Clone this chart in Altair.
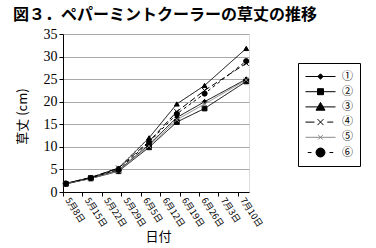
import altair as alt
import pandas as pd

# ---- data ----
series = ["①", "②", "③", "④", "⑤", "⑥"]
days = [1, 10, 20, 31, 41, 51, 66]          # days after 5月8日
v1 = [1.8, 3.1, 4.8, 10.5, 16.5, 20.0, 25.0]
v2 = [1.8, 3.0, 4.6, 9.9, 15.5, 18.5, 24.5]
v3 = [1.9, 3.2, 5.3, 12.0, 19.5, 23.6, 31.8]
v4 = [1.9, 3.2, 5.3, 11.2, 17.8, 22.5, 28.5]
v5 = [1.8, 3.0, 4.7, 10.2, 16.0, 19.5, 24.8]
v6 = [1.9, 3.1, 5.0, 11.0, 17.3, 21.8, 29.0]
tick_days = [0, 7, 14, 21, 28, 35, 42, 49, 56, 63]
tick_labels = ["5月8日", "5月15日", "5月22日", "5月29日", "6月5日",
               "6月12日", "6月19日", "6月26日", "7月3日", "7月10日"]
y_ticks = [0, 5, 10, 15, 20, 25, 30, 35]

values = [v1, v2, v3, v4, v5, v6]
rows = []
for s, vals in zip(series, values):
    for d, v in zip(days, vals):
        rows.append({"series": s, "day": d, "height": v})
df = pd.DataFrame(rows)

# ---- styles ----
colors = ["#000000", "#000000", "#000000", "#000000", "#8a8a8a", "#000000"]
dashes = [[1, 0], [1, 0], [1, 0], [6, 3], [1, 0], [3, 3]]
widths = [1, 1, 1.4, 1.2, 1, 1.5]
plot_shapes = ["diamond", "square", "triangle-up",
               "M-1,-1L1,1M-1,1L1,-1",
               "M-1,-1L1,1M-1,1L1,-1",
               "circle"]
plot_sizes = [22, 26, 55, 36, 22, 60]
legend_paths = [
    "M-1,0H1M-0.18,0L0,-0.18L0.18,0L0,0.18Z",
    "M-1,0H1M-0.2,-0.2H0.2V0.2H-0.2Z",
    "M-1,0H1M0,-0.3L0.3,0.22H-0.3Z",
    "M-1,0H-0.4M0.45,0H0.85M-0.2,-0.2L0.2,0.2M-0.2,0.2L0.2,-0.2",
    "M-1,0H1M-0.15,-0.15L0.15,0.15M-0.15,0.15L0.15,-0.15",
    "M-0.85,0H-0.6M0.6,0H0.85M0.3,0A0.3,0.3,0,1,1,-0.3,0A0.3,0.3,0,1,1,0.3,0Z",
]

label_arr = "[" + ",".join("'" + t + "'" for t in tick_labels) + "]"

x_enc = alt.X(
    "day:Q",
    scale=alt.Scale(domain=[0, 67], nice=False, zero=False),
    axis=alt.Axis(
        values=tick_days,
        labelExpr=label_arr + "[round(datum.value/7)]",
        grid=False, tickSize=4, tickColor="#000000", domainColor="#000000",
        labelAngle=57, labelAlign="left", labelBaseline="middle",
        labelPadding=2, labelOffset=4, labelOverlap=False,
        labelFont="Noto Sans CJK JP", labelFontSize=9, labelColor="#000000",
        title="日付", titleFont="Noto Sans CJK JP", titleFontSize=13,
        titleFontWeight="normal", titleColor="#000000",
        titleX=95, titleY=44, titleBaseline="middle", titleAlign="center",
    ),
)
y_enc = alt.Y(
    "height:Q",
    scale=alt.Scale(domain=[0, 35], nice=False),
    axis=alt.Axis(
        values=y_ticks, grid=True, gridColor="#a8a8a8", gridWidth=1,
        tickSize=4, tickColor="#000000", domainColor="#000000",
        labelFont="Liberation Serif", labelFontSize=14, labelColor="#000000",
        labelPadding=2,
        title="草丈 (cm)", titleFont="Noto Sans CJK JP", titleFontSize=13,
        titleFontWeight="normal", titleColor="#000000",
        titleX=-41, titleY=82, titleBaseline="middle", titleAlign="center",
        titleAngle=270,
    ),
)

def sc(rng):
    return alt.Scale(domain=series, range=rng)

base = alt.Chart(df)

lines = base.mark_line(interpolate="linear").encode(
    x=x_enc, y=y_enc,
    color=alt.Color("series:N", scale=sc(colors), legend=None),
    strokeDash=alt.StrokeDash("series:N", scale=sc(dashes), legend=None),
    strokeWidth=alt.StrokeWidth("series:N", scale=sc(widths), legend=None),
)

points = base.mark_point(filled=True, opacity=1, strokeWidth=1).encode(
    x=x_enc, y=y_enc,
    shape=alt.Shape("series:N", scale=sc(plot_shapes), legend=None),
    color=alt.Color("series:N", scale=sc(colors), legend=None),
    stroke=alt.Stroke("series:N", scale=sc(colors), legend=None),
    size=alt.Size("series:N", scale=sc(plot_sizes), legend=None),
)

leg = alt.Legend(
    title=None, orient="none", legendX=235, legendY=29,
    padding=7, strokeColor="#000000",
    symbolSize=900, clipHeight=13, rowPadding=2.2,
    symbolStrokeWidth=1, symbolOpacity=1,
    labelOffset=6, labelFont="Noto Sans CJK JP", labelFontSize=11,
    labelColor="#000000",
)

legend_layer = base.transform_filter("false").mark_point(
    filled=True, opacity=1, strokeWidth=1
).encode(
    x=x_enc, y=y_enc,
    shape=alt.Shape("series:N", scale=sc(legend_paths), legend=leg),
    color=alt.Color("series:N", scale=sc(colors), legend=leg),
    stroke=alt.Stroke("series:N", scale=sc(colors), legend=leg),
)

chart = alt.layer(lines, points, legend_layer).resolve_scale(
    shape="independent", color="independent", stroke="independent"
).properties(
    width=186, height=158,
    title=alt.Title(
        "図３．ペパーミントクーラーの草丈の推移",
        anchor="start", frame="group", dx=-50, offset=4,
        font="Noto Sans CJK JP", fontSize=16, fontWeight="bold", color="#000000",
    ),
    autosize=alt.AutoSizeParams(type="none"),
    padding={"left": 63, "top": 34, "right": 127, "bottom": 56},
).configure_view(stroke="#444444", strokeWidth=1).configure(background="white")

chart.save("out.html", embed_options={"renderer": "svg", "actions": False})
